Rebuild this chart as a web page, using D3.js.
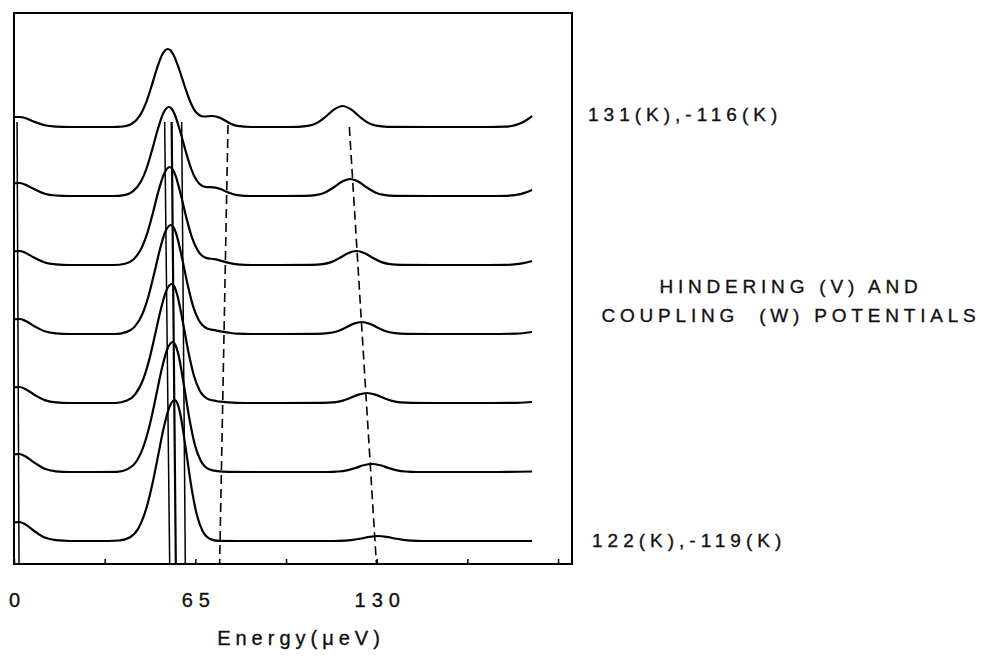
<!DOCTYPE html>
<html>
<head>
<meta charset="utf-8">
<script src="https://cdn.jsdelivr.net/npm/d3@7"></script>
<style>
  body { margin: 0; background: #fff; }
  text { font-family: "Liberation Sans", Arial, Helvetica, sans-serif; fill: #111; stroke: #111; stroke-width: 0.35px; }
</style>
</head>
<body>
<div id="chart"></div>
<script>
// x axis
var tickValues = [0, 32.5, 65, 97.5, 130, 162.5, 195];
var tickLabels = {0: "0", 65: "65", 130: "130"};
var axisTitle = "Energy(\u03bceV)";

// labels on the right
var topLabel = "131(K),-116(K)";
var bottomLabel = "122(K),-119(K)";
var titleLines = ["HINDERING (V) AND", "COUPLING  (W) POTENTIALS"];

// spectra, top to bottom: [energy (ueV), intensity above own baseline]
var spec1 = [[0,10],[2,10],[4,9],[7,5.5],[11,1.8],[15,0.4],[20,0],[30,0],
  [35.1,0],[39.1,0.5],[42.1,3],[45.1,11.4],[47.1,22.6],[49.1,39],[51.1,57.3],[53.1,72.2],[55.1,78],[56.1,76.6],[57.1,72.5],[59.1,58.5],[61.1,41.5],[63.1,25.7],[65.1,15.3],[68.1,10.5],[71.1,11],[74,9],[77,4.3],[80,1.1],[85,0],[95,0],
  [101.8,0.2],[105.8,1.3],[108.8,4.4],[111.8,10.5],[114.8,17.6],[117.8,21],[120.8,17.6],[123.8,10.5],[126.8,4.4],[129.8,1.3],[133.8,0.2],
  [150,0],[170,0],[176,0.3],[180,2.1],[183,5.7],[185.7,11]];
var spec2 = [[0,12.7],[2,13],[4,11.4],[7,7.2],[11,2.3],[15,0.5],[20,0],[30,0],
  [35.5,0],[39.5,0.9],[42.5,4.3],[45.5,14.4],[47.5,27.5],[49.5,46],[51.5,66.3],[53.5,82.7],[55.5,89],[56.5,87.3],[57.5,82.3],[59.5,65.2],[61.5,45.1],[63.5,27.1],[65.5,15.5],[68.5,9.2],[71.5,8.7],[74,7],[77,3.4],[80,0.9],[85,0],[95,0],
  [104.5,0.1],[108.5,1.1],[111.5,3.6],[114.5,8.5],[117.5,14.3],[120.5,17],[123.5,14.3],[126.5,8.5],[129.5,3.6],[132.5,1.1],[136.5,0.1],
  [150,0],[170,0],[176,0.2],[180,1.1],[183,3.1],[185.7,6]];
var spec3 = [[0,13.7],[2,14],[4,12.3],[7,7.7],[11,2.5],[15,0.6],[20,0],[30,0],
  [35.8,0],[39.8,1.3],[42.8,5.5],[45.8,17.4],[47.8,32.1],[49.8,52.2],[51.8,74.1],[53.8,91.3],[55.8,98],[56.8,95.9],[57.8,90.2],[59.8,70.3],[61.8,47.1],[63.8,27.3],[65.8,14.7],[68.8,7.1],[71.8,5.8],[74,4.4],[77,2.1],[80,0.6],[85,0],[95,0],
  [106.7,0.1],[110.7,0.9],[113.7,2.9],[116.7,7],[119.7,11.8],[122.7,14],[125.7,11.8],[128.7,7],[131.7,2.9],[134.7,0.9],[138.7,0.1],
  [150,0],[170,0],[176,0.1],[180,0.8],[183,2.1],[185.7,4]];
var spec4 = [[0,14.7],[2,15],[4,13.2],[7,8.3],[11,2.7],[15,0.6],[20,0],[30,0],
  [36.2,0],[40.2,1.9],[43.2,7.1],[46.2,21.2],[48.2,37.8],[50.2,60],[52.2,83.5],[54.2,102],[56.2,109],[57.2,106.6],[58.2,99.7],[60.2,76.3],[62.2,49.7],[64.2,27.7],[66.2,14],[69.2,5.6],[72.2,3.7],[74,2.6],[77,1.3],[80,0.3],[85,0],[95,0],
  [108.6,0.1],[112.6,0.8],[115.6,2.5],[118.6,6],[121.6,10.1],[124.6,12],[127.6,10.1],[130.6,6],[133.6,2.5],[136.6,0.8],[140.6,0.1],
  [150,0],[170,0],[180,0.4],[183,1],[185.7,2]];
var spec5 = [[0,15.7],[2,16],[4,14.1],[7,8.8],[11,2.9],[15,0.6],[20,0],[30,0],
  [36.5,0],[40.5,2.4],[43.5,8.8],[46.5,25.1],[48.5,43.6],[50.5,67.5],[52.5,92.3],[54.5,111.7],[56.5,119],[57.5,116.3],[58.5,108.3],[60.5,81.3],[62.5,51.2],[64.5,27.2],[66.5,12.8],[69.5,4.1],[72.5,2],[74,1.3],[77,0.6],[80,0.2],[85,0],[95,0],
  [110.5,0.1],[114.5,0.6],[117.5,2.1],[120.5,5],[123.5,8.4],[126.5,10],[129.5,8.4],[132.5,5],[135.5,2.1],[138.5,0.6],[142.5,0.1],
  [150,0],[170,0],[180,0.2],[183,0.5],[185.7,1]];
var spec6 = [[0,17.6],[2,18],[4,15.8],[7,9.9],[11,3.2],[15,0.7],[20,0],[30,0],
  [36.9,0.1],[40.9,3.1],[43.9,10.7],[46.9,29.5],[48.9,50],[50.9,75.8],[52.9,102.3],[54.9,122.5],[56.9,130],[57.9,126.8],[58.9,117.7],[60.9,86.7],[62.9,52.7],[64.9,26.4],[66.9,11.5],[69.9,2.7],[72.9,0.8],[77,0.2],[85,0],[95,0],
  [112.3,0],[116.3,0.5],[119.3,1.7],[122.3,4],[125.3,6.7],[128.3,8],[131.3,6.7],[134.3,4],[137.3,1.7],[140.3,0.5],[144.3,0],
  [170,0],[185.7,0.5]];
var spec7 = [[0,18.6],[2,19],[4,16.7],[7,10.5],[11,3.4],[15,0.8],[20,0],[30,0],
  [37.6,0.5],[41.6,3.8],[44.6,12.8],[47.6,34.3],[49.6,57],[51.6,84.6],[53.6,112.4],[55.6,133.2],[57.6,141],[58.6,137.3],[59.6,126.9],[61.6,91.7],[63.6,53.6],[65.6,25.4],[67.6,9.9],[70.6,1.6],[73.6,0.1],[80,0],[95,0],
  [114.5,0],[118.5,0.3],[121.5,1.1],[124.5,2.5],[127.5,4.2],[130.5,5],[133.5,4.2],[136.5,2.5],[139.5,1.1],[142.5,0.3],[146.5,0],
  [170,0],[185.7,0]];
var spectra = [spec1, spec2, spec3, spec4, spec5, spec6, spec7];

// guide lines: [energy at top, energy at bottom, top intensity]
var solidGuides = [[1.1, 1.8, 419], [54.0, 55.8, 419], [56.5, 58.0, 419], [60.1, 61.4, 419]];
var dashedGuides = [[76.7, 73.7, 416], [120.2, 129.9, 414]];

var width = 996, height = 658;
var frame = {left: 14, right: 572, top: 13, bottom: 564};
var step = 69;   // vertical offset between spectra
var font = '"Liberation Sans", Arial, Helvetica, sans-serif';

var svg = d3.select("#chart").append("svg")
    .attr("width", width)
    .attr("height", height)
    .style("background", "#fff");

var x = d3.scaleLinear().domain([0, 200]).range([frame.left, frame.right]);
var y = d3.scaleLinear().domain([-23, 528]).range([frame.bottom, frame.top]);

// frame
svg.append("rect")
    .attr("x", frame.left)
    .attr("y", frame.top)
    .attr("width", frame.right - frame.left)
    .attr("height", frame.bottom - frame.top)
    .attr("fill", "none")
    .attr("stroke", "#000")
    .attr("stroke-width", 2);

// ticks (inside) + labels
svg.append("g")
    .attr("transform", "translate(0," + frame.bottom + ")")
    .call(d3.axisBottom(x)
      .tickValues(tickValues)
      .tickSizeInner(-5)
      .tickSizeOuter(0)
      .tickPadding(29)
      .tickFormat(function(d) { return tickLabels[d] || ""; }))
    .call(function(g) {
      g.select(".domain").remove();
      g.selectAll("line").attr("stroke", "#000").attr("stroke-width", 1.5);
      g.selectAll("text")
        .attr("font-size", "20px")
        .attr("font-family", font)
        .attr("letter-spacing", "6px")
        .attr("dx", "3px")
        .attr("fill", "#111");
    });

svg.append("text")
    .attr("x", 301)
    .attr("y", 645)
    .attr("text-anchor", "middle")
    .attr("font-size", "20px")
    .attr("letter-spacing", "5px")
    .text(axisTitle);

// guides
svg.selectAll(".solid-guide")
  .data(solidGuides)
  .enter()
  .append("line")
    .attr("class", "solid-guide")
    .attr("x1", function(d) { return x(d[0]); })
    .attr("x2", function(d) { return x(d[1]); })
    .attr("y1", function(d) { return y(d[2]); })
    .attr("y2", y(-23))
    .attr("stroke", "#000")
    .attr("stroke-width", function(d, i) { return i == 2 ? 2.2 : 1.5; });

svg.selectAll(".dashed-guide")
  .data(dashedGuides)
  .enter()
  .append("line")
    .attr("class", "dashed-guide")
    .attr("x1", function(d) { return x(d[0]); })
    .attr("x2", function(d) { return x(d[1]); })
    .attr("y1", function(d) { return y(d[2]); })
    .attr("y2", y(-23))
    .attr("stroke", "#000")
    .attr("stroke-width", 1.6)
    .attr("stroke-dasharray", "9,5");

// spectra
var line = d3.line()
    .x(function(d) { return x(d[0]); })
    .y(function(d) { return y(d[1]); })
    .curve(d3.curveMonotoneX);

svg.selectAll(".spectrum")
  .data(spectra)
  .enter()
  .append("path")
    .attr("class", "spectrum")
    .attr("fill", "none")
    .attr("stroke", "#000")
    .attr("stroke-width", 2.2)
    .attr("stroke-linejoin", "round")
    .attr("d", function(s, i) {
      var off = (spectra.length - 1 - i) * step;
      return line(s.map(function(p) { return [p[0], p[1] + off]; }));
    });

// right side labels
svg.append("text")
    .attr("x", 588)
    .attr("y", y((spectra.length - 1) * step) - 6)
    .attr("font-size", "19px")
    .attr("letter-spacing", "5px")
    .text(topLabel);

svg.append("text")
    .attr("x", 592)
    .attr("y", y(0) + 6)
    .attr("font-size", "19px")
    .attr("letter-spacing", "5px")
    .text(bottomLabel);

svg.selectAll(".title-line")
  .data(titleLines)
  .enter()
  .append("text")
    .attr("class", "title-line")
    .attr("x", 791)
    .attr("y", function(d, i) { return 293 + i * 29; })
    .attr("text-anchor", "middle")
    .attr("font-size", "19px")
    .attr("letter-spacing", "4.8px")
    .style("white-space", "pre")
    .text(function(d) { return d; });
</script>
</body>
</html>
